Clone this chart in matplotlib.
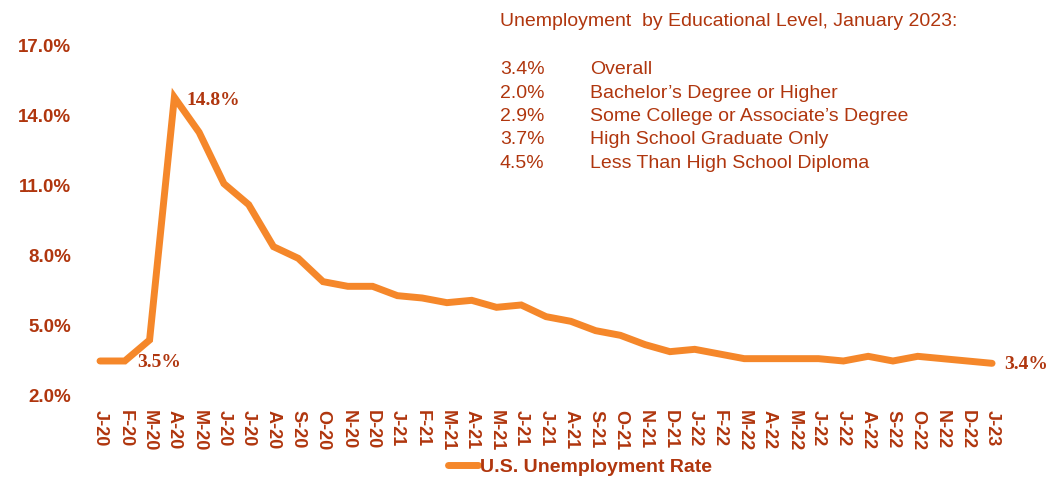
import numpy as np
import matplotlib.pyplot as plt

# monthly data, Jan 2020 - Jan 2023
months = ["J-20", "F-20", "M-20", "A-20", "M-20", "J-20", "J-20", "A-20", "S-20", "O-20", "N-20", "D-20",
          "J-21", "F-21", "M-21", "A-21", "M-21", "J-21", "J-21", "A-21", "S-21", "O-21", "N-21", "D-21",
          "J-22", "F-22", "M-22", "A-22", "M-22", "J-22", "J-22", "A-22", "S-22", "O-22", "N-22", "D-22",
          "J-23"]
rate = [3.5, 3.5, 4.4, 14.8, 13.3, 11.1, 10.2, 8.4, 7.9, 6.9, 6.7, 6.7,
        6.3, 6.2, 6.0, 6.1, 5.8, 5.9, 5.4, 5.2, 4.8, 4.6, 4.2, 3.9,
        4.0, 3.8, 3.6, 3.6, 3.6, 3.6, 3.5, 3.7, 3.5, 3.7, 3.6, 3.5,
        3.4]

edu_values = ["3.4%", "2.0%", "2.9%", "3.7%", "4.5%"]
edu_labels = ["Overall", "Bachelor\u2019s Degree or Higher", "Some College or Associate\u2019s Degree",
              "High School Graduate Only", "Less Than High School Diploma"]

text_col = "#B0360E"
line_col = "#F5872A"

plt.rcParams['font.family'] = ['Liberation Sans', 'DejaVu Sans']

fig = plt.figure(figsize=(10.52, 4.79), dpi=100)
ax = fig.add_axes([0.0833, 0.1733, 0.8715, 0.7307])

x = np.arange(len(rate))
ax.plot(x, rate, color=line_col, lw=5, solid_capstyle='round', solid_joinstyle='miter',
        label="U.S. Unemployment Rate")

ax.set_xlim(-0.5, len(rate) - 0.5)
ax.set_ylim(2, 17)
ax.set_yticks([2, 5, 8, 11, 14, 17])
ax.set_yticklabels([f"{v:.1f}%" for v in [2, 5, 8, 11, 14, 17]])
ax.set_xticks(x)
ax.set_xticklabels(months, rotation=270)

for s in ax.spines.values():
    s.set_visible(False)
ax.tick_params(length=0)
ax.tick_params(axis='y', pad=12, labelsize=13.5, labelcolor=text_col)
ax.tick_params(axis='x', pad=10, labelsize=13, labelcolor=text_col)
for lab in ax.get_xticklabels() + ax.get_yticklabels():
    lab.set_fontweight('bold')

# data labels
serif = dict(family='Liberation Serif', fontweight='bold', fontsize=14, color=text_col)
ax.annotate(f"{rate[3]:.1f}%", (x[3], rate[3]), xytext=(9, -2), textcoords='offset points',
            va='center', ha='left', **serif)
ax.annotate(f"{rate[1]:.1f}%", (x[1], rate[1]), xytext=(9, -1), textcoords='offset points',
            va='center', ha='left', **serif)
ax.annotate(f"{rate[-1]:.1f}%", (x[-1], rate[-1]), xytext=(9, -1), textcoords='offset points',
            va='center', ha='left', **serif)

# educational level text block
fig.text(500 / 1052, 1 - 21 / 479, "Unemployment  by Educational Level, January 2023:",
         color=text_col, fontsize=14, va='center', ha='left')
for i, (v, l) in enumerate(zip(edu_values, edu_labels)):
    yy = 1 - (70 + i * 23.3) / 479
    fig.text(500 / 1052, yy, v, color=text_col, fontsize=14, va='center', ha='left')
    fig.text(590 / 1052, yy, l, color=text_col, fontsize=14, va='center', ha='left')

leg = fig.legend(loc='center', bbox_to_anchor=(580 / 1052, 1 - 467 / 479), frameon=False,
                 handlelength=1.5, handletextpad=0.1, fontsize=14)
for t in leg.get_texts():
    t.set_color(text_col)
    t.set_fontweight('bold')

fig.savefig("out.png", dpi=100)
